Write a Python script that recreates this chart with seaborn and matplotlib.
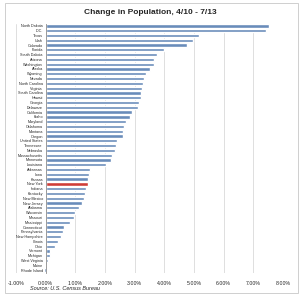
import matplotlib
matplotlib.use("Agg")
import matplotlib.pyplot as plt
import seaborn as sns
import pandas as pd
import numpy as np
from matplotlib.ticker import FuncFormatter, FixedLocator

# Data (percent change, 4/10 - 7/13)
states = [
    "North Dakota", "D.C.", "Texas", "Utah", "Colorado", "Florida",
    "South Dakota", "Arizona", "Washington", "Alaska", "Wyoming", "Nevada",
    "North Carolina", "Virginia", "South Carolina", "Hawaii", "Georgia",
    "Delaware", "California", "Idaho", "Maryland", "Oklahoma", "Montana",
    "Oregon", "United States", "Tennessee", "Nebraska", "Massachusetts",
    "Minnesota", "Louisiana", "Arkansas", "Iowa", "Kansas", "New York",
    "Indiana", "Kentucky", "New Mexico", "New Jersey", "Alabama", "Wisconsin",
    "Missouri", "Mississippi", "Connecticut", "Pennsylvania", "New Hampshire",
    "Illinois", "Ohio", "Vermont", "Michigan", "West Virginia", "Maine",
    "Rhode Island",
]
change = [
    7.53, 7.42, 5.16, 4.96, 4.76, 3.99,
    3.76, 3.66, 3.66, 3.52, 3.38, 3.32,
    3.27, 3.24, 3.23, 3.22, 3.13,
    3.11, 2.90, 2.85, 2.70, 2.64, 2.61,
    2.59, 2.40, 2.36, 2.33, 2.23,
    2.20, 2.05, 1.51, 1.46, 1.44, 1.42,
    1.35, 1.31, 1.28, 1.24, 1.12, 0.99,
    0.94, 0.82, 0.63, 0.57, 0.53,
    0.42, 0.33, 0.16, 0.14, 0.09, 0.02,
    -0.05,
]
highlight = "New York"
x_ticks = list(range(-1, 9))

df = pd.DataFrame({"state": states, "change": change})
df["group"] = ["hi" if s == highlight else "base" for s in states]

sns.set_style("white")
plt.rcParams["font.family"] = ["Liberation Sans", "DejaVu Sans"]

fig = plt.figure(figsize=(3, 2.98), dpi=100)
# chart border like the spreadsheet chart object
fig.patches.append(plt.Rectangle((5 / 300, 1 - 293 / 298), 293 / 300, 290 / 298,
                                 transform=fig.transFigure, fill=False,
                                 edgecolor="#c8c8c8", linewidth=0.6))

ax = fig.add_axes([16 / 300, 1 - 272.5 / 298, 267 / 300, 249 / 298])
sns.barplot(data=df, x="change", y="state", hue="group",
            palette={"base": "#5b8bc7", "hi": "#e8261e"},
            orient="h", width=0.68, dodge=False, legend=False, ax=ax)

ax.set_xlim(-1, 8)
ax.set_xticks(x_ticks)
ax.xaxis.set_major_formatter(FuncFormatter(lambda v, p: f"{v:.2f}%"))
ax.grid(axis="x", color="#d9d9d9", linewidth=0.6)
ax.set_axisbelow(True)
for s in ax.spines.values():
    s.set_visible(False)

# category axis sits at 0 with labels to its left
ax.spines["left"].set_visible(True)
ax.spines["left"].set_position(("data", 0))
ax.spines["left"].set_color("#8c8c8c")
ax.spines["left"].set_linewidth(0.6)
ax.yaxis.set_minor_locator(FixedLocator(np.arange(-0.5, len(states), 1.0)))
ax.tick_params(axis="y", which="minor", length=1.5, width=0.4, color="#8c8c8c")
ax.tick_params(axis="y", which="major", labelsize=2.7, length=0, pad=2)
ax.tick_params(axis="x", labelsize=3.8, length=0, pad=6)
ax.set_xlabel("")
ax.set_ylabel("")

fig.text(0.5, 1 - 13 / 298, "Change in Population, 4/10 - 7/13",
         ha="center", va="center", fontsize=6, fontweight="bold")
fig.text(30 / 300, 1 - 289 / 298, "Source: U.S. Census Bureau",
         ha="left", va="center", fontsize=4, style="italic")

fig.savefig("out.png", dpi=100)
